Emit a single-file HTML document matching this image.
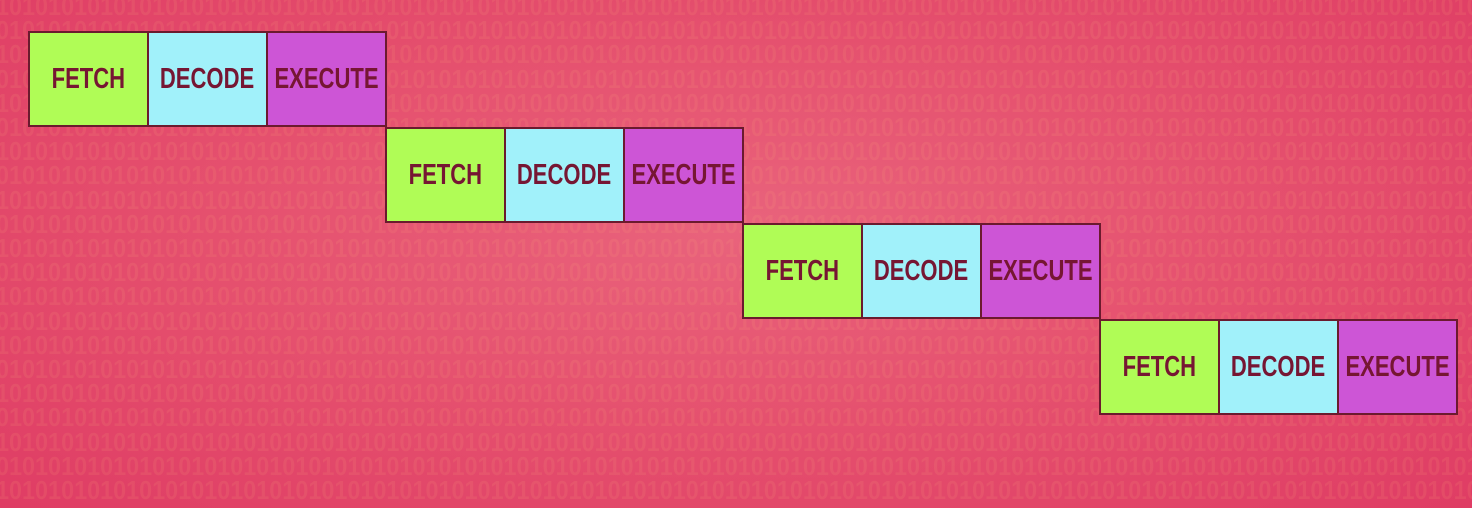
<!DOCTYPE html>
<html><head><meta charset="utf-8"><style>
html,body{margin:0;padding:0;width:1472px;height:508px;overflow:hidden}
body{position:relative;
background:radial-gradient(ellipse at 50% 45%,#e9637c 0%,#e5506e 50%,#df3c64 100%);
font-family:"Liberation Sans",sans-serif}
.clip{position:absolute;left:0;top:0;width:1472px;height:508px;overflow:hidden}
.bin{position:absolute;left:-4px;top:-6px;color:rgba(255,170,120,0.13);font-weight:bold;font-size:26px;line-height:24.2px;white-space:nowrap;transform:scaleX(0.9);transform-origin:0 0;width:1800px}
.row{position:absolute;height:92px;display:flex;border:2px solid #6b1a2e}
.c{width:117px;height:92px;display:flex;align-items:center;justify-content:center;border-right:2px solid #6b1a2e}
.c:last-child{border-right:none}
.c span{display:inline-block;font-weight:bold;font-size:29px;color:#761633;transform:scaleX(0.76)}
.f{background:#b0fc56}.d{background:#a1f1fa}.e{background:#cd55d6}
</style></head><body>
<div class="clip"><div class="bin" id="b"></div></div>
<script>
var s="";var l="";for(var i=0;i<70;i++)l+="10";
for(var j=0;j<21;j++)s+=(j%2?"0":"")+l+"<br>";
document.getElementById("b").innerHTML=s;
</script>
<div class="row" style="left:28px;top:31px"><div class="c f"><span>FETCH</span></div><div class="c d"><span>DECODE</span></div><div class="c e"><span>EXECUTE</span></div></div>
<div class="row" style="left:385px;top:127px"><div class="c f"><span>FETCH</span></div><div class="c d"><span>DECODE</span></div><div class="c e"><span>EXECUTE</span></div></div>
<div class="row" style="left:742px;top:223px"><div class="c f"><span>FETCH</span></div><div class="c d"><span>DECODE</span></div><div class="c e"><span>EXECUTE</span></div></div>
<div class="row" style="left:1099px;top:319px"><div class="c f"><span>FETCH</span></div><div class="c d"><span>DECODE</span></div><div class="c e"><span>EXECUTE</span></div></div>
</body></html>
